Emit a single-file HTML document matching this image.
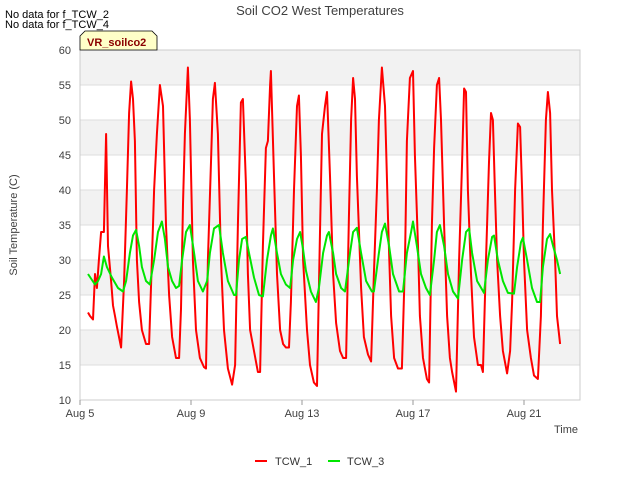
<!DOCTYPE html>
<html><head><meta charset="utf-8"><style>
body{margin:0;background:#fff;}
svg{display:block;font-family:"Liberation Sans",sans-serif;}
</style></head><body>
<svg id="chart" width="640" height="480" xmlns="http://www.w3.org/2000/svg">
<rect width="640" height="480" fill="#fff"/>
<g id="bands"></g>
<g id="grid"></g>
<rect x="80" y="50" width="500" height="350" fill="none" stroke="#cccccc"/>
<g id="yticks"></g>
<g id="xticks"></g>
<g id="series"></g>
<text x="320" y="15" text-anchor="middle" font-size="13" fill="#404040">Soil CO2 West Temperatures</text>
<text x="5" y="18" font-size="11" fill="#000">No data for f_TCW_2</text>
<text x="5" y="28" font-size="11" fill="#000">No data for f_TCW_4</text>
<g>
<path d="M80,50 L80,36 L85,31 L152,31 L157,36 L157,50 Z" fill="#ffffc8" stroke="#000" stroke-width="0.8"/>
<text x="87" y="46" font-size="11" font-weight="bold" fill="#8b0000">VR_soilco2</text>
</g>
<text transform="translate(17,225) rotate(-90)" text-anchor="middle" font-size="11" fill="#404040">Soil Temperature (C)</text>
<text x="578" y="433" text-anchor="end" font-size="11" fill="#404040">Time</text>
<g>
<line x1="255" y1="461" x2="267" y2="461" stroke="#ff0000" stroke-width="2"/>
<text x="275" y="465" font-size="11" fill="#333">TCW_1</text></g>
<g>
<line x1="328" y1="461" x2="340" y2="461" stroke="#00e600" stroke-width="2"/>
<text x="347" y="465" font-size="11" fill="#333">TCW_3</text></g>
</svg>
<script>
const yTicks=[10,15,20,25,30,35,40,45,50,55,60];
const xTickDays=[0,4,8,12,16];
const xTickLabels=["Aug 5","Aug 9","Aug 13","Aug 17","Aug 21"];
const tcw1Days=[0.29,0.36,0.47,0.54,0.61,0.68,0.76,0.86,0.94,1.01,1.12,1.19,1.26,1.33,1.48,1.59,1.69,1.77,1.84,1.91,1.98,2.05,2.13,2.23,2.38,2.49,2.59,2.67,2.77,2.88,2.99,3.10,3.21,3.32,3.46,3.57,3.64,3.71,3.78,3.89,3.96,4.07,4.18,4.32,4.47,4.54,4.61,4.72,4.79,4.86,4.97,5.08,5.19,5.33,5.48,5.59,5.69,5.80,5.87,5.98,6.05,6.13,6.27,6.41,6.49,6.59,6.70,6.77,6.85,6.88,6.99,7.10,7.21,7.32,7.42,7.53,7.60,7.71,7.82,7.89,7.96,8.04,8.18,8.29,8.43,8.54,8.65,8.72,8.83,8.90,9.01,9.12,9.23,9.37,9.48,9.59,9.69,9.77,9.84,9.91,9.98,10.13,10.23,10.38,10.49,10.59,10.70,10.77,10.88,10.99,11.10,11.21,11.32,11.46,11.60,11.71,11.78,11.89,12.00,12.07,12.18,12.25,12.36,12.50,12.58,12.68,12.76,12.86,12.94,13.01,13.12,13.23,13.33,13.41,13.51,13.55,13.66,13.77,13.84,13.91,13.98,14.09,14.20,14.34,14.45,14.52,14.63,14.74,14.81,14.88,14.95,15.03,15.14,15.24,15.39,15.50,15.57,15.68,15.78,15.86,15.93,16.00,16.11,16.25,16.36,16.50,16.61,16.68,16.79,16.86,16.94,17.01,17.12,17.19,17.30];
const tcw1Values=[22.5,22,21.5,28,26,30,34,34,48,32,27,23.5,22,20.5,17.5,27,40,51,55.5,53,47,30,24,20,18,18,30,40,48,55,52,35,25,19,16,16,23,38,48,57.5,50,30,20,16,14.7,14.5,30,44,53,55.3,48,30,20,14.5,12.2,15,35,52.5,53,41,28,20,17,14,14,32,46,47,55,57,42,28,20,18,17.5,17.5,24,40,52,53.5,45,30,20,15,12.5,12,34,48,52,54,42,28,21,17,16,16,36,50,56,53,42,26,19,16.5,15.5,28,40,50,57.5,52,36,22,16,14.5,14.5,30,47,56,57,45,32,22,16,13,12.5,35,46,55,56,50,35,22,16,14,12,11.2,30,44,54.5,54,40,28,19,15,15,14,30,44,51,50,40,30,22,17,13.8,17,24,40,49.5,49,40,30,20,16,13.5,13,22,35,50,54,51,40,30,22,18];
const tcw3Days=[0.29,0.54,0.65,0.76,0.86,0.97,1.15,1.37,1.55,1.66,1.80,1.91,2.02,2.13,2.23,2.38,2.52,2.67,2.81,2.95,3.06,3.17,3.32,3.46,3.57,3.68,3.82,3.96,4.11,4.25,4.43,4.58,4.68,4.83,5.01,5.15,5.33,5.55,5.62,5.73,5.84,5.98,6.09,6.27,6.45,6.59,6.74,6.88,6.95,7.10,7.24,7.42,7.57,7.68,7.82,7.93,8.04,8.14,8.32,8.50,8.61,8.76,8.90,8.97,9.12,9.23,9.41,9.55,9.73,9.84,9.98,10.13,10.31,10.52,10.59,10.77,10.88,10.99,11.14,11.28,11.50,11.64,11.78,11.93,12.00,12.14,12.29,12.47,12.61,12.76,12.86,12.97,13.12,13.26,13.44,13.62,13.77,13.91,14.02,14.13,14.31,14.56,14.70,14.85,14.92,15.06,15.24,15.42,15.64,15.75,15.89,15.96,16.11,16.29,16.47,16.58,16.68,16.83,16.94,17.05,17.19,17.30];
const tcw3Values=[28,26.5,27,28,30.5,29,27.5,26,25.5,27,31,33.5,34.3,32,29,27,26.5,30,34,35.5,33,29,27,26,26.3,30,34,35,31,27,25.5,27,31,34.5,35,31,27,25,25,30,33,33.3,31,27.5,25,24.8,30,33.5,34.5,31,28,26.5,26,30,33,34,31.5,28.5,25.5,24,26,31,33.5,34,31,28,26,25.5,31,34,34.6,31,27,25.5,25.5,31,34,35.2,32,28,25.5,25.5,31,34,35.5,32,28,26,25,30,34,35,32,28,25.5,24.5,30,34,34.5,31,27,25.3,30,33.3,33.5,30,27,25.3,25.2,29,32.5,33.2,30,26,24,24,29,33,33.7,32,30,28];

const NS="http://www.w3.org/2000/svg";
function xs(d){return 80+d*27.75;}
function ys(v){return 400-(v-10)*7;}
function mk(tag,attrs,parent){const e=document.createElementNS(NS,tag);for(const k in attrs)e.setAttribute(k,attrs[k]);parent.appendChild(e);return e;}
const bands=document.getElementById('bands'),grid=document.getElementById('grid'),yt=document.getElementById('yticks'),xt=document.getElementById('xticks'),ser=document.getElementById('series');
mk('rect',{x:80,y:50,width:500,height:350,fill:'#ffffff'},bands);
for(let i=0;i<yTicks.length-1;i++){
  if(i%2===1){const r=mk('rect',{x:80,y:ys(yTicks[i+1]),width:500,height:ys(yTicks[i])-ys(yTicks[i+1]),fill:'#f2f2f2'},bands);
  
  }
}
yTicks.forEach(v=>{
  const l=mk('line',{x1:80,x2:580,y1:ys(v),y2:ys(v),stroke:'#dddddd','stroke-width':1},grid);
  
  
  const t=mk('text',{x:71,y:ys(v)+4,'text-anchor':'end','font-size':11,fill:'#404040'},yt);
  t.textContent=v;
  
  
});
xTickDays.forEach((d,i)=>{
  const l=mk('line',{x1:xs(d),x2:xs(d),y1:400,y2:405,stroke:'#999'},xt);
  
  
  const t=mk('text',{x:xs(d),y:417,'text-anchor':'middle','font-size':11,fill:'#404040'},xt);
  t.textContent=xTickLabels[i];
  
  
});
function line(days,vals,color,name){
  const p=days.map((d,i)=>xs(d).toFixed(1)+','+ys(vals[i]).toFixed(1)).join(' ');
  const pl=mk('polyline',{points:p,fill:'none',stroke:color,'stroke-width':2,'stroke-linejoin':'round'},ser);
  
  
}
line(tcw1Days,tcw1Values,'#ff0000','tcw1-line');
line(tcw3Days,tcw3Values,'#00e600','tcw3-line');
</script>
</body></html>
